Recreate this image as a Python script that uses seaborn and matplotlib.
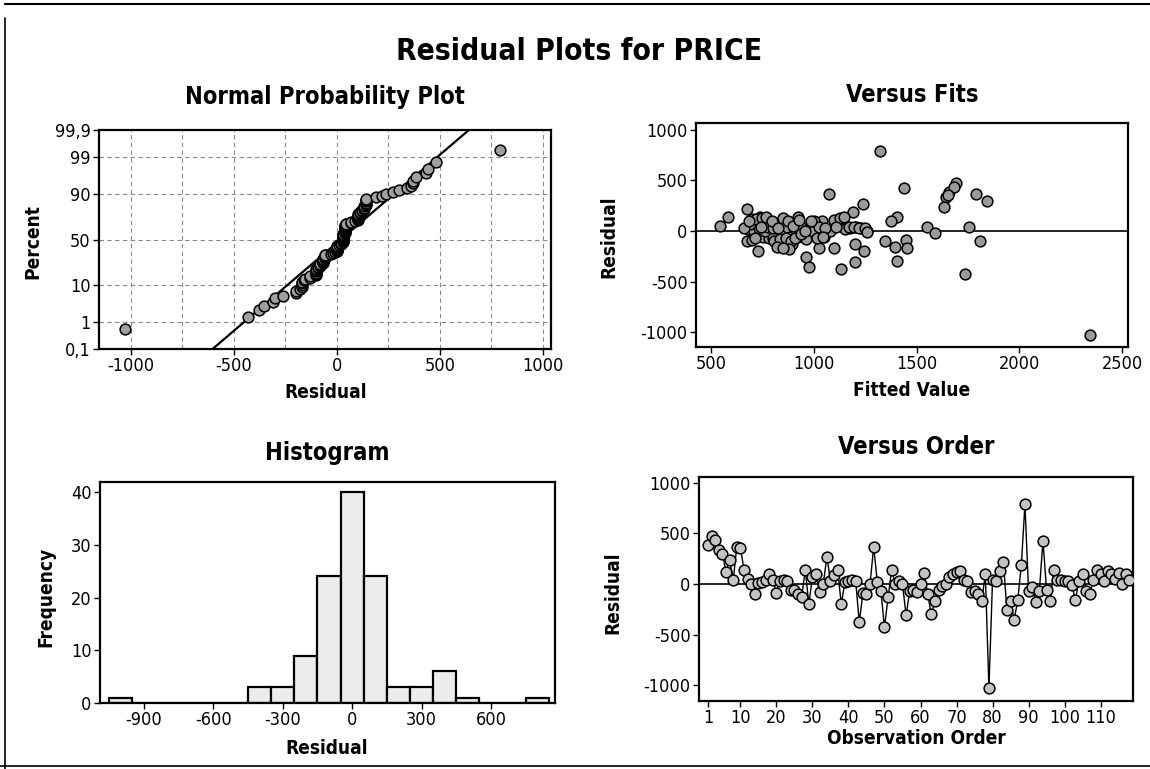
import numpy as np
import pandas as pd
import matplotlib
matplotlib.use("Agg")
import matplotlib.pyplot as plt
import seaborn as sns
from matplotlib.lines import Line2D
from statistics import NormalDist

sns.set_theme(style="white")
plt.rcParams['font.family'] = ['DejaVu Sans']
plt.rcParams['font.stretch'] = 'condensed'
plt.rcParams['axes.edgecolor'] = 'black'
plt.rcParams['axes.linewidth'] = 1.6
plt.rcParams['axes.unicode_minus'] = False
plt.rcParams['text.color'] = 'black'
plt.rcParams['axes.labelcolor'] = 'black'
plt.rcParams['xtick.color'] = 'black'
plt.rcParams['ytick.color'] = 'black'

residual = [
    383, 480, 440, 340, 300, 120, 240, 40, 370, 360,
    140, 45, 0, -100, 10, 20, 40, 100, 40, -90,
    30, 40, 30, -60, -60, -100, -130, 140, -200, 70,
    100, -80, 0, 270, 30, 90, 140, -200, 20, 30,
    40, 30, -380, -90, -100, 0, 370, 20, -70, -430,
    -130, 140, 0, 30, 0, -310, -70, -60, -80, 0,
    110, -100, -300, -170, -60, -20, 0, 70, 100, 120,
    130, 40, 30, -80, -70, -100, -170, 100, -1030, 40,
    30, 130, 220, -260, -170, -355, -160, 190, 790, -70,
    -30, -180, -70, 430, -60, -170, 140, 40, 40, 30,
    30, -10, -155, 30, 100, -70, -100, 40, 140, 100,
    30, 130, 100, 45, 110, 0, 100, 40,
]

fitted = [
    1660, 1690, 1680, 1645, 1842, 700, 1633, 1550, 1788, 1655,
    585, 544, 760, 673, 790, 815, 1753, 845, 870, 700,
    905, 940, 980, 725, 755, 830, 1200, 739, 730, 1010,
    1040, 860, 1065, 1240, 1090, 1120, 925, 1243, 1150, 1175,
    1205, 1230, 1134, 1447, 1346, 1260, 1072, 680, 780, 1735,
    895, 1403, 710, 735, 765, 1200, 800, 925, 960, 995,
    1100, 805, 1403, 1027, 1050, 1588, 1080, 690, 1376, 720,
    750, 775, 800, 835, 865, 890, 1100, 1000, 2344, 1025,
    1055, 1130, 673, 960, 1456, 975, 820, 1190, 1323, 910,
    940, 880, 1015, 1438, 1045, 850, 1145, 1170, 1195, 1220,
    1250, 1260, 1394, 660, 685, 715, 1810, 745, 770, 795,
    825, 850, 875, 900, 930, 955, 985, 1110,
]

pct_ticks = [0.1, 1, 10, 50, 90, 99, 99.9]
pct_labels = ["0,1", "1", "10", "50", "90", "99", "99,9"]

df = pd.DataFrame({
    "order": np.arange(1, len(residual) + 1),
    "residual": residual,
    "fitted": fitted,
})

nd = NormalDist()
n = len(df)
srt = np.sort(df["residual"].values)
ranks = (np.arange(1, n + 1) - 0.3) / (n + 0.4)
npp = pd.DataFrame({"residual": srt, "z": [nd.inv_cdf(p) for p in ranks]})
mu = df["residual"].mean()
sd = df["residual"].std()

W, H = 1150, 769
fig = plt.figure(figsize=(W / 100, H / 100), dpi=100)
fig.patch.set_facecolor("white")


def rect(l, r, t, b):
    return [l / W, 1 - b / H, (r - l) / W, (b - t) / H]


def ftext(x, y, s, **kw):
    fig.text(x / W, 1 - y / H, s, ha="center", va="center", color="black", **kw)


def style(ax):
    ax.tick_params(direction="out", length=4, width=1, labelsize=13,
                   pad=2, bottom=True, left=True, colors="black")
    for s in ax.spines.values():
        s.set_linewidth(1.6)
        s.set_color("black")
    ax.set_xlabel("")
    ax.set_ylabel("")


mk = dict(s=60, edgecolor="black", linewidth=1.1, zorder=3)

# normal probability plot
ax1 = fig.add_axes(rect(99, 551, 130, 349))
for gx in np.arange(-1000, 1001, 250):
    ax1.axvline(gx, color="#8a8a8a", lw=0.8, ls=(0, (4, 3)), zorder=0)
for p in pct_ticks[1:-1]:
    ax1.axhline(nd.inv_cdf(p / 100), color="#8a8a8a", lw=0.8, ls=(0, (4, 3)), zorder=0)
zline = np.linspace(-3.5, 3.5, 50)
ax1.plot(mu + sd * zline, zline, color="black", lw=1.6, zorder=2)
sns.scatterplot(data=npp, x="residual", y="z", ax=ax1, color="#a0a0a0", **mk)
ax1.set_xlim(-1155, 1039)
ax1.set_ylim(nd.inv_cdf(0.001), nd.inv_cdf(0.999))
ax1.set_yticks([nd.inv_cdf(p / 100) for p in pct_ticks])
ax1.set_yticklabels(pct_labels)
ax1.set_xticks([-1000, -500, 0, 500, 1000])
style(ax1)

# versus fits
ax2 = fig.add_axes(rect(696, 1128, 123, 347))
ax2.axhline(0, color="black", lw=1.2, zorder=1)
sns.scatterplot(data=df, x="fitted", y="residual", ax=ax2, color="#9a9a9a", **mk)
ax2.set_xlim(427, 2529)
ax2.set_ylim(-1148, 1069)
ax2.set_xticks([500, 1000, 1500, 2000, 2500])
ax2.set_yticks([-1000, -500, 0, 500, 1000])
style(ax2)

# histogram
ax3 = fig.add_axes(rect(100, 555, 482, 703))
sns.histplot(data=df, x="residual", bins=np.arange(-1050, 851, 100), ax=ax3,
             color="#ececec", edgecolor="black", linewidth=1.6, alpha=1)
ax3.set_xlim(-1090, 877)
ax3.set_ylim(0, 41.9)
ax3.set_xticks([-900, -600, -300, 0, 300, 600])
ax3.set_yticks([0, 10, 20, 30, 40])
style(ax3)

# versus order
ax4 = fig.add_axes(rect(699, 1133, 477, 701))
ax4.axhline(0, color="black", lw=1.2, zorder=1)
sns.lineplot(data=df, x="order", y="residual", ax=ax4, color="black", lw=1.0, zorder=2)
sns.scatterplot(data=df, x="order", y="residual", ax=ax4, color="#c4c4c4", **mk)
ax4.set_xlim(-1.5, 119)
ax4.set_ylim(-1158, 1059)
ax4.set_xticks([1, 10, 20, 30, 40, 50, 60, 70, 80, 90, 100, 110])
ax4.set_yticks([-1000, -500, 0, 500, 1000])
style(ax4)

# titles and labels
ftext(579, 52, "Residual Plots for PRICE", fontsize=21.5, fontweight="bold")
ftext(325, 97, "Normal Probability Plot", fontsize=17, fontweight="bold")
ftext(912, 95, "Versus Fits", fontsize=17, fontweight="bold")
ftext(327, 453, "Histogram", fontsize=17, fontweight="bold")
ftext(916, 447, "Versus Order", fontsize=17, fontweight="bold")

ftext(326, 393, "Residual", fontsize=13.7, fontweight="bold")
ftext(33, 242, "Percent", fontsize=13.7, fontweight="bold", rotation=90)
ftext(912, 390, "Fitted Value", fontsize=13.7, fontweight="bold")
ftext(609, 237, "Residual", fontsize=13.7, fontweight="bold", rotation=90)
ftext(327, 748, "Residual", fontsize=13.7, fontweight="bold")
ftext(46, 597, "Frequency", fontsize=13.7, fontweight="bold", rotation=90)
ftext(916, 738, "Observation Order", fontsize=13.7, fontweight="bold")
ftext(613, 593, "Residual", fontsize=13.7, fontweight="bold", rotation=90)

# outer frame of the scanned page
fig.add_artist(Line2D([0.004, 1.0], [1 - 4 / H, 1 - 4 / H], color="black", lw=1.5))
fig.add_artist(Line2D([5 / W, 5 / W], [1 - 18 / H, 0.0], color="black", lw=1.2))
fig.add_artist(Line2D([0.0, 1.0], [1 - 766 / H, 1 - 766 / H], color="black", lw=1.2))

fig.savefig("out.png", dpi=100, facecolor="white")
